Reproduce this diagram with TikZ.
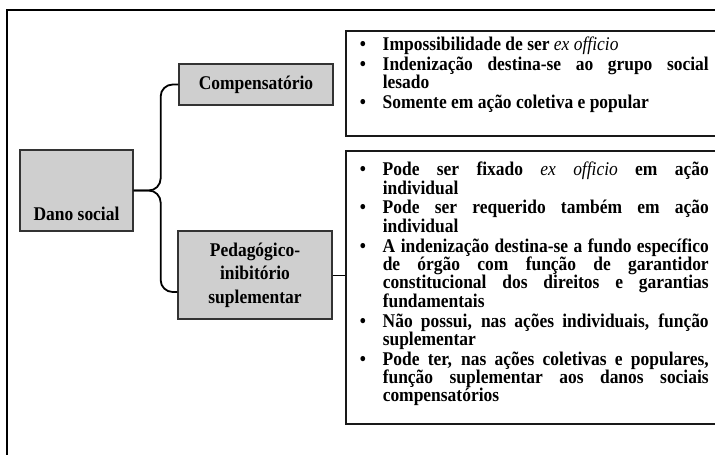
\documentclass[tikz,border=0pt]{standalone}
\usepackage{fontspec}
\setmainfont{Liberation Serif}[FakeStretch=0.9]
\hyphenpenalty=10000
\exhyphenpenalty=10000
\usetikzlibrary{calc}
\tikzset{
  graybox/.style={draw=black!80, line width=1.3pt, fill=black!19, inner sep=0pt,
    align=center, font=\fontsize{19.4}{23.5}\selectfont\bfseries},
  listbox/.style={draw=black!90, line width=1.5pt, anchor=north west, inner xsep=10pt,
    inner ysep=0pt, text width=353pt, align=justify,
    font=\fontsize{19.4}{18.35}\selectfont\bfseries},
  brace/.style={line width=1.8pt, rounded corners=12pt}
}
\newcommand{\bitem}[1]{\hangindent=27pt\hangafter=1\noindent
  \makebox[27pt][l]{\hspace{4pt}\textbullet}#1\par}
\newcommand{\bgap}{\vspace{1.5pt}}
\begin{document}
\begin{tikzpicture}[x=1pt,y=-1pt]
  \useasboundingbox (0,0) rectangle (715,455);
  \clip (0,0) rectangle (715,455);
  \draw[line width=1.8pt] (7,470) -- (7,10) -- (730,10);

  \node[graybox, minimum width=113pt, text height=70pt, text depth=11pt]
    (dano) at (76.5,190.5) {Dano social};
  \node[graybox, minimum width=154pt, minimum height=41pt]
    (comp) at (256,84.5) {Compensatório};
  \node[graybox, minimum width=154pt, minimum height=88pt]
    (ped) at (255,275) {Pedagógico-\\inibitório\\suplementar};

  \node[listbox, text height=20pt, text depth=85pt] (complist) at (345,30) {%
    \bitem{Impossibilidade de ser {\mdseries\itshape ex officio}}\bgap
    \bitem{Indenização destina-se ao grupo social\linebreak lesado}\bgap
    \bitem{Somente em ação coletiva e popular}};
  \node[listbox, text height=25pt, text depth=248pt] (pedlist) at (345,150) {%
    \bitem{Pode ser fixado {\mdseries\itshape ex officio} em ação\linebreak individual}\bgap
    \bitem{Pode ser requerido também em ação\linebreak individual}\bgap
    \bitem{A indenização destina-se a fundo específico\linebreak de órgão com função de
      garantidor\linebreak constitucional dos direitos e garantias\linebreak fundamentais}\bgap
    \bitem{Não possui, nas ações individuais, função\linebreak suplementar}\bgap
    \bitem{Pode ter, nas ações coletivas e populares,\linebreak função suplementar aos danos
      sociais\linebreak compensatórios}};

  \coordinate (fork) at ([xshift=27pt]dano.east);
  \draw[brace] (comp.west) -| (fork) -- (dano.east);
  \draw[brace] ([yshift=-17pt]ped.west) -| (fork) -- (dano.east);
  \draw[line width=0.8pt] (ped.east) -- (ped.east -| pedlist.west);
\end{tikzpicture}
\end{document}
